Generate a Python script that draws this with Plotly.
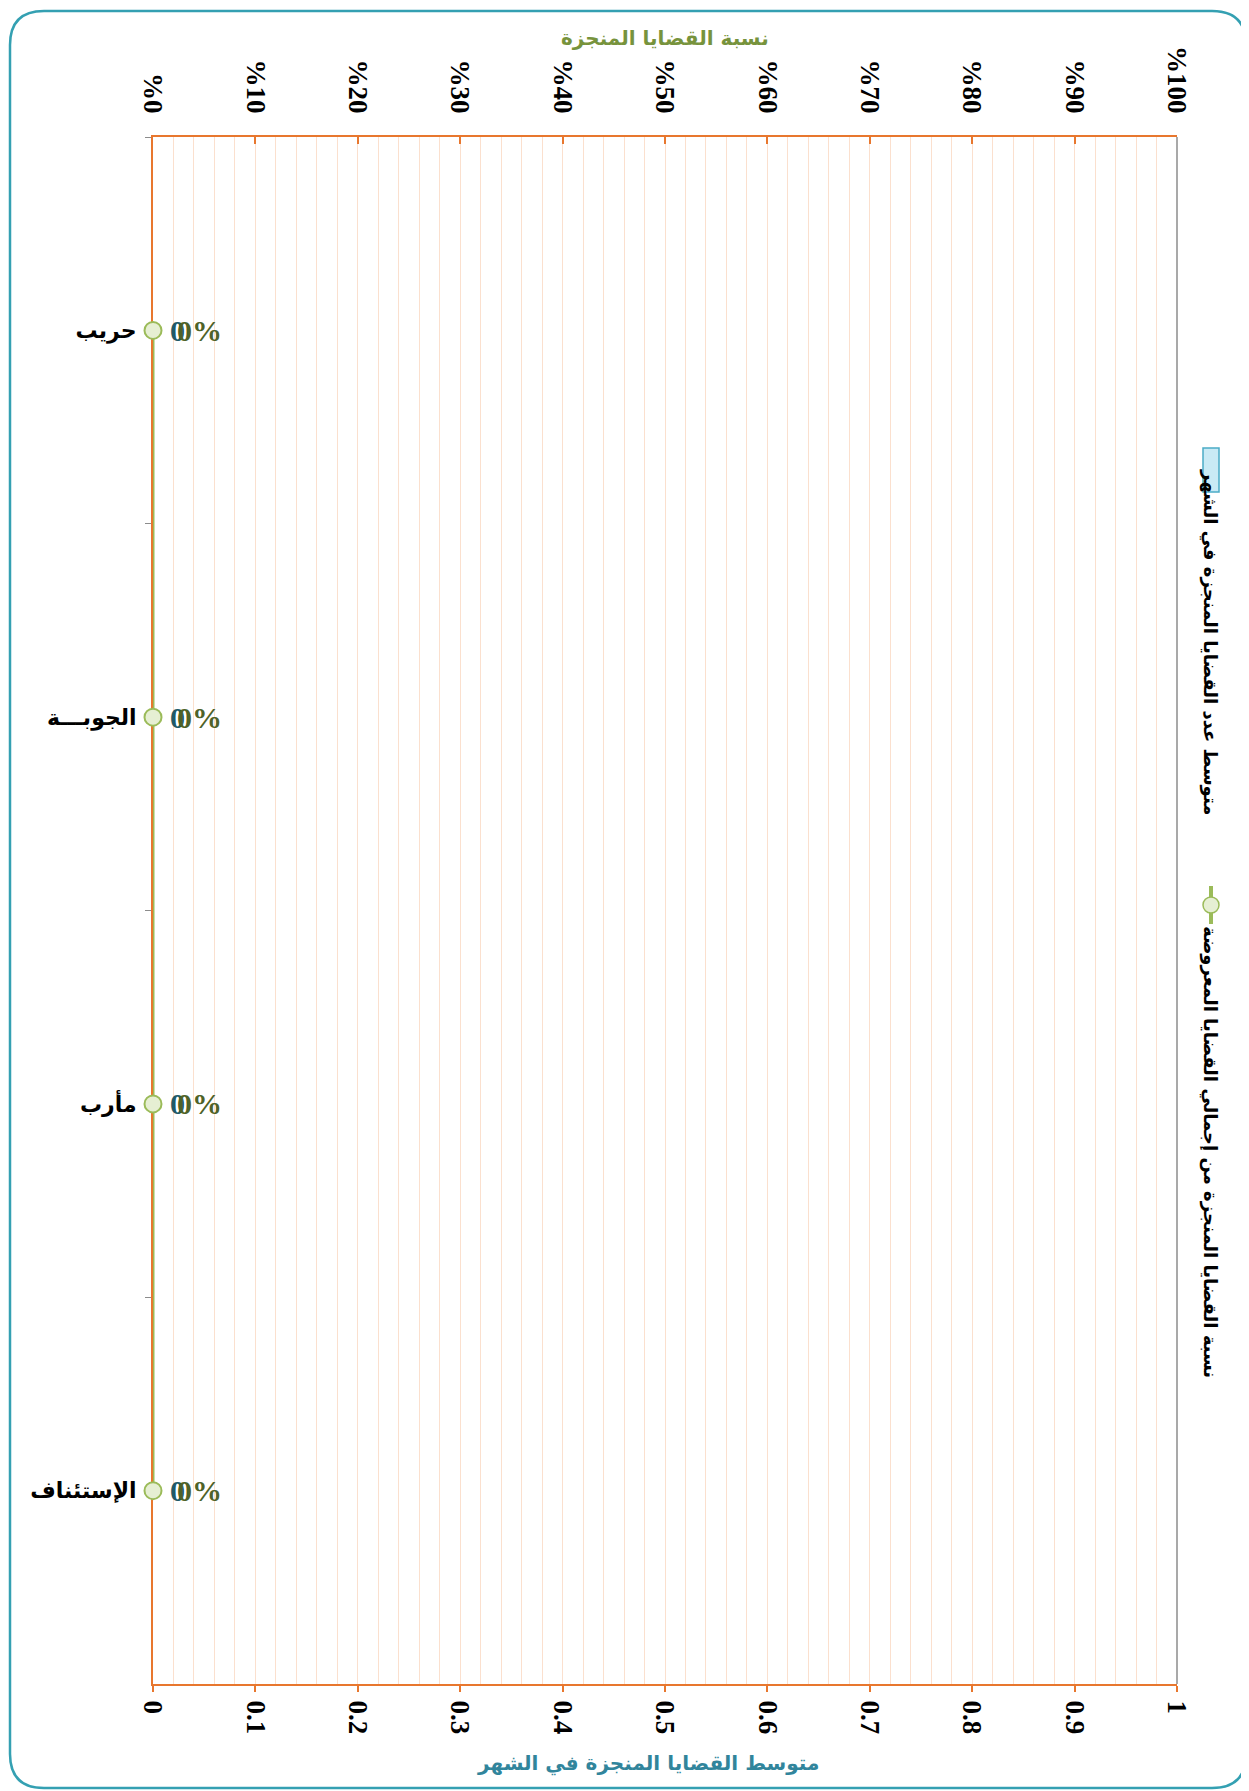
import plotly.graph_objects as go

# ---------------- data ----------------
categories = ["حريب", "الجوبـــة", "مأرب", "الإستئناف"]
avg_completed = [0, 0, 0, 0]          # متوسط عدد القضايا المنجزة في الشهر
pct_completed = [0, 0, 0, 0]          # نسبة القضايا المنجزة من إجمالي القضايا المعروضة
bar_labels = ["0", "0", "0", "0"]
pct_labels = ["0%", "0%", "0%", "0%"]
x_tickvals = [0, 0.1, 0.2, 0.3, 0.4, 0.5, 0.6, 0.7, 0.8, 0.9, 1]
x_ticktext = ["0", "0.1", "0.2", "0.3", "0.4", "0.5", "0.6", "0.7", "0.8", "0.9", "1"]
pct_ticktext = ["%0", "%10", "%20", "%30", "%40", "%50", "%60", "%70", "%80", "%90", "%100"]
legend_bar = "متوسط عدد القضايا المنجزة في الشهر"
legend_line = "نسبة القضايا المنجزة من إجمالي القضايا المعروضة"
title_top = "نسبة القضايا المنجزة"
title_bottom = "متوسط القضايا المنجزة في الشهر"

# ---------------- geometry (page pixels; page body has an 8px margin) ----------------
OFF = 8
W, H = 1249 - OFF, 1791 - OFF
PL, PR, PT, PB = 153, 1177, 137, 1684          # plot area in page pixels
L, R, T, B = PL - OFF, PR - OFF, PT - OFF, PB - OFF


def px(x):
    return (x - PL) / (PR - PL)


def py(y):
    return (PB - y) / (PB - PT)


ORANGE = "#E8772E"
GRID = "#FBE0CE"
ARABIC = "DejaVu Sans"
SERIF = "Liberation Serif"

fig = go.Figure()

fig.add_trace(go.Bar(
    x=avg_completed, y=categories, orientation="h",
    xaxis="x", yaxis="y",
    marker=dict(color="#C9EAF5", line=dict(color="#4BACC6", width=0)),
    showlegend=False,
))

fig.add_trace(go.Scatter(
    x=pct_completed, y=categories,
    xaxis="x2", yaxis="y",
    mode="lines+markers",
    line=dict(color="#9BBB59", width=3),
    marker=dict(size=17, color="#E6EFD3", line=dict(color="#9BBB59", width=2)),
    cliponaxis=False,
    showlegend=False,
))

fig.update_layout(
    width=W, height=H,
    margin=dict(l=L, r=W - R, t=T, b=H - B),
    paper_bgcolor="white", plot_bgcolor="white",
    bargap=0.5,
    xaxis=dict(
        range=[0, 1], tickvals=x_tickvals, ticktext=x_ticktext,
        tickangle=90, ticks="outside", ticklen=6, tickcolor=ORANGE, tickwidth=1.5,
        showline=True, linecolor=ORANGE, linewidth=2,
        showgrid=True, gridcolor=GRID, gridwidth=1.3,
        minor=dict(dtick=0.02, showgrid=True, gridcolor=GRID, gridwidth=1.3, ticks=""),
        zeroline=False, ticklabelstandoff=3,
        tickfont=dict(family=SERIF, size=27, color="black", weight="bold"),
        fixedrange=True,
    ),
    xaxis2=dict(
        range=[0, 1], tickvals=x_tickvals, ticktext=pct_ticktext,
        overlaying="x", side="top", anchor="y",
        tickangle=90, ticks="inside", ticklen=7, tickcolor=ORANGE, tickwidth=1.5,
        showline=True, linecolor=ORANGE, linewidth=2,
        showgrid=False, zeroline=False, ticklabelstandoff=12,
        tickfont=dict(family=SERIF, size=27, color="black", weight="bold"),
    ),
    yaxis=dict(
        categoryorder="array", categoryarray=categories, autorange="reversed",
        showline=True, linecolor=ORANGE, linewidth=2, layer="below traces",
        ticks="outside", tickson="boundaries", ticklen=6, tickcolor="#8C8C8C",
        showgrid=False, zeroline=False, ticklabelstandoff=10,
        tickfont=dict(family=ARABIC, size=22, color="black", weight="bold"),
    ),
)

# outer rounded border
x0, x1, y0, y1, r = 10, 1246, 11, 1788, 34
path = (
    f"M {px(x0 + r)},{py(y0)} L {px(x1 - r)},{py(y0)} "
    f"Q {px(x1)},{py(y0)} {px(x1)},{py(y0 + r)} "
    f"L {px(x1)},{py(y1 - r)} Q {px(x1)},{py(y1)} {px(x1 - r)},{py(y1)} "
    f"L {px(x0 + r)},{py(y1)} Q {px(x0)},{py(y1)} {px(x0)},{py(y1 - r)} "
    f"L {px(x0)},{py(y0 + r)} Q {px(x0)},{py(y0)} {px(x0 + r)},{py(y0)} Z"
)
shapes = [
    dict(type="path", xref="paper", yref="paper", path=path,
         line=dict(color="#34A0B2", width=2.5), layer="below"),
    # right plot border
    dict(type="line", xref="paper", yref="paper", x0=1, x1=1, y0=0, y1=1,
         line=dict(color="#8C8C8C", width=1.5)),
    # legend swatch: bar
    dict(type="rect", xref="paper", yref="paper",
         x0=px(1203), x1=px(1219), y0=py(492), y1=py(448),
         fillcolor="#C9EAF5", line=dict(color="#4BACC6", width=1.5)),
    # legend swatch: line + marker
    dict(type="line", xref="paper", yref="paper",
         x0=px(1211), x1=px(1211), y0=py(886), y1=py(924),
         line=dict(color="#9BBB59", width=4)),
    dict(type="circle", xref="paper", yref="paper",
         x0=px(1203), x1=px(1219), y0=py(913), y1=py(897),
         fillcolor="#E6EFD3", line=dict(color="#9BBB59", width=1.5)),
]
fig.update_layout(shapes=shapes)

annotations = []
# data labels: bar values (teal) first, then percentage labels (olive) on top
for cat, val, lab in zip(categories, avg_completed, bar_labels):
    annotations.append(dict(
        text=lab, x=val, y=cat, xref="x", yref="y", showarrow=False,
        xanchor="left", yanchor="middle", xshift=15,
        font=dict(family=SERIF, size=30, color="#215967", weight="bold")))
for cat, val, lab in zip(categories, pct_completed, pct_labels):
    annotations.append(dict(
        text=lab, x=val, y=cat, xref="x2", yref="y", showarrow=False,
        xanchor="left", yanchor="middle", xshift=22,
        font=dict(family=SERIF, size=30, color="#4F6228", weight="bold")))

annotations += [
    dict(text=title_top, xref="paper", yref="paper", x=px(665), y=py(38),
         showarrow=False, xanchor="center", yanchor="middle",
         font=dict(family=ARABIC, size=20, color="#77933C", weight="bold")),
    dict(text=title_bottom, xref="paper", yref="paper", x=px(648), y=py(1763),
         showarrow=False, xanchor="center", yanchor="middle",
         font=dict(family=ARABIC, size=20, color="#31859C", weight="bold")),
    dict(text=legend_bar, xref="paper", yref="paper", x=px(1210), y=py(642),
         showarrow=False, textangle=90, xanchor="center", yanchor="middle",
         font=dict(family=ARABIC, size=18, color="black", weight="bold")),
    dict(text=legend_line, xref="paper", yref="paper", x=px(1210), y=py(1152),
         showarrow=False, textangle=90, xanchor="center", yanchor="middle",
         font=dict(family=ARABIC, size=18, color="black", weight="bold")),
]
fig.update_layout(annotations=annotations)

fig.write_html("out.html")
